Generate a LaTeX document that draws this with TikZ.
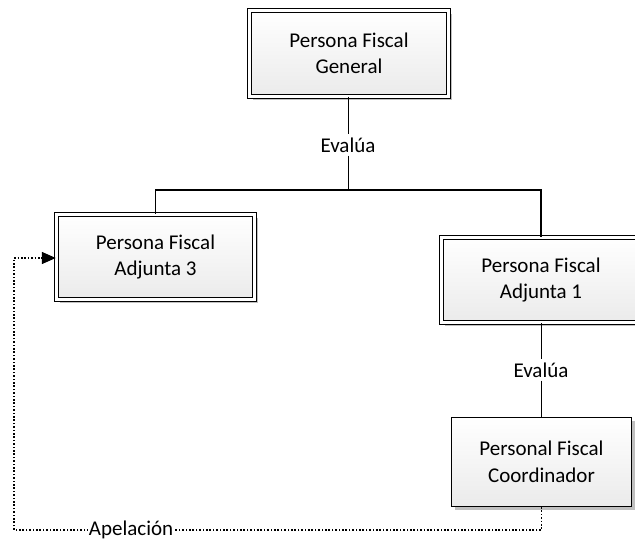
\documentclass[tikz,border=0pt]{standalone}
\usepackage{fontspec}
\setmainfont{Carlito}
\usetikzlibrary{arrows.meta, positioning, shadows}

\begin{document}
\begin{tikzpicture}[x=1pt, y=-1pt,
    font=\fontsize{21}{26.5}\selectfont,
    bigbox/.style={draw=black, line width=0.9pt, double=white, double distance=3.4pt,
      rectangle, align=center, top color=white, bottom color=black!8,
      minimum width=198.5pt, minimum height=85.5pt,
      drop shadow={shadow xshift=3.5pt, shadow yshift=-3.5pt, fill=black!25, opacity=1}},
    smallbox/.style={draw=black, line width=0.9pt, rectangle, align=center,
      top color=white, bottom color=black!8,
      minimum width=180pt, minimum height=89pt,
      drop shadow={shadow xshift=3.5pt, shadow yshift=-3.5pt, fill=black!25, opacity=1}},
    lbl/.style={inner sep=3pt},
    apel/.style={line width=1.4pt, dash pattern=on 1.6pt off 1.8pt}]
  \useasboundingbox (0,0) rectangle (635,543);
  % Top box: Persona Fiscal General
  \node[bigbox] (gen) at (349,53.5) {Persona Fiscal\\General};
  % Second level
  \node[bigbox] (adj3) at (155.5,257) {Persona Fiscal\\Adjunta 3};
  \node[bigbox] (adj1) at (541,280) {Persona Fiscal\\Adjunta 1};
  % Bottom box
  \node[smallbox] (coord) at (541.5,462) {Personal Fiscal\\Coordinador};
  % Labels
  \node[lbl] (ev1) at (348,145) {Evalúa};
  \node[lbl] (ev2) at (541,370) {Evalúa};
  \coordinate (bar) at (348,190);
  % Tree lines
  \draw[line width=1pt] (gen.south -| ev1) -- (ev1.north);
  \draw[line width=1pt] (ev1.south) -- (bar);
  \draw[line width=1.4pt] (adj3.north) |- (bar) -| (adj1.north);
  \draw[line width=1pt] (adj1.south) -- (ev2.north);
  \draw[line width=1pt] (ev2.south) -- (coord.north -| ev2);
  % Appeal line
  \coordinate (a1) at (541.5,530);
  \coordinate (a2) at (14,530);
  \draw[apel, -{Triangle[length=14pt, width=12pt]}] (coord.south) -- (a1)
    -- node[pos=0.778, fill=white, inner sep=1pt]{Apelación} (a2) |- ([yshift=-1pt]adj3.west);
\end{tikzpicture}
\end{document}
